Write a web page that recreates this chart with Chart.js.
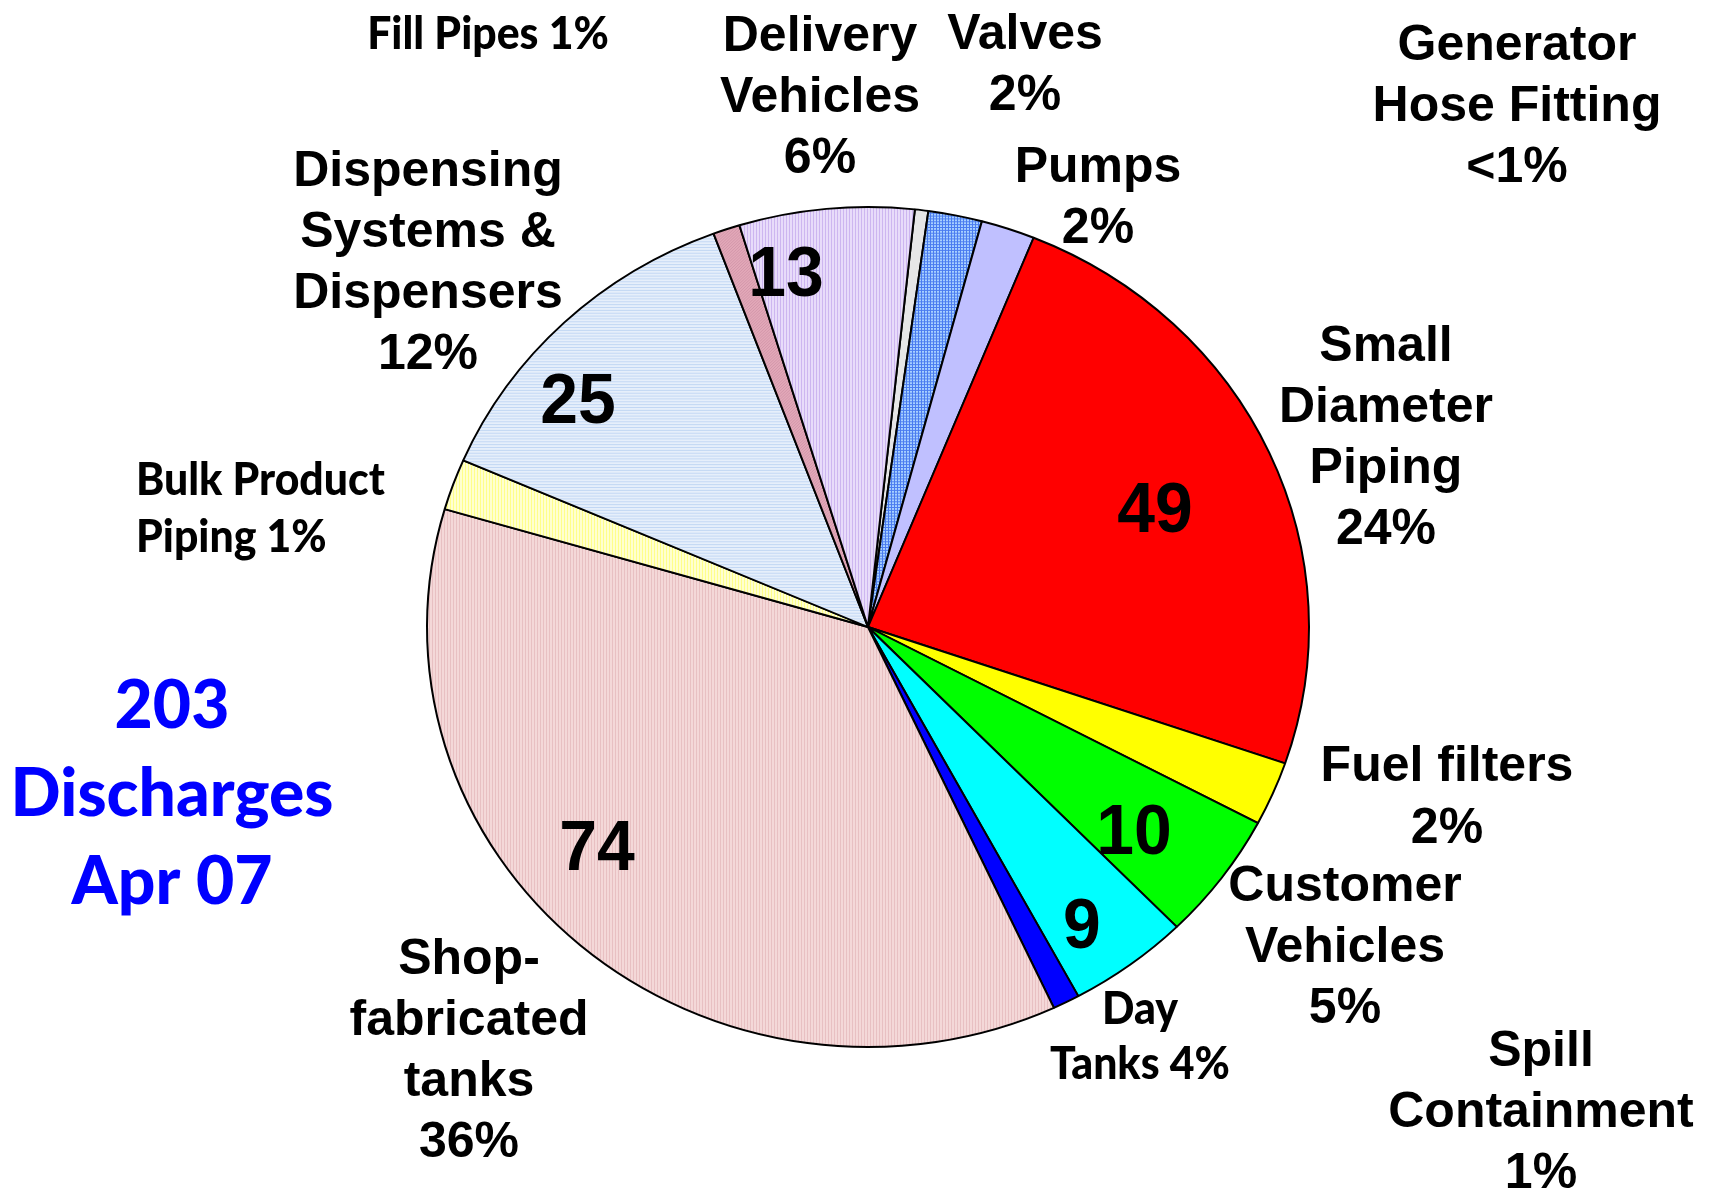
<!DOCTYPE html>
<html>
<head>
<meta charset="utf-8">
<script src="https://cdn.jsdelivr.net/npm/chart.js@4.4.1/dist/chart.umd.min.js"></script>
<style>
  html, body { margin: 0; padding: 0; background: #fff; }
</style>
</head>
<body>
<canvas id="myChart" width="1709" height="1197"></canvas>
<script>
// slices, clockwise starting near 12 o'clock
const categories = ['Generator Hose Fitting', 'Valves', 'Pumps', 'Small Diameter Piping', 'Fuel filters',
    'Customer Vehicles', 'Day Tanks', 'Spill Containment', 'Shop-fabricated tanks', 'Bulk Product Piping',
    'Dispensing Systems & Dispensers', 'Fill Pipes', 'Delivery Vehicles'];
const discharges = [1, 4, 4, 49, 5, 10, 9, 2, 74, 4, 26, 2, 13];
// numbers printed inside the big slices
const innerNumbers = ['', '', '', '49', '', '10', '9', '', '74', '', '25', '', '13'];
const totalText = ['203', 'Discharges', 'Apr 07'];

// little pattern tiles to imitate the excel hatch fills
function hatch(bg, fg, kind) {
    const c = document.createElement('canvas');
    c.width = 3; c.height = 3;
    const g = c.getContext('2d');
    g.fillStyle = bg;
    g.fillRect(0, 0, 3, 3);
    g.fillStyle = fg;
    if (kind == 'v' || kind == 'grid') g.fillRect(0, 0, 1, 3);
    if (kind == 'h' || kind == 'grid') g.fillRect(0, 0, 3, 1);
    if (kind == 'dots') { g.fillRect(0, 0, 1, 1); g.fillRect(2, 1, 1, 1); g.fillRect(1, 2, 1, 1); }
    return g.createPattern(c, 'repeat');
}

const fills = [
    '#E6E6E6',
    hatch('#A8D0FF', '#4A7CF0', 'grid'),
    '#C0C0FF',
    '#FF0000',
    '#FFFF00',
    '#00FF00',
    '#00FFFF',
    '#0000FF',
    hatch('#F4D8D8', '#E8C0C2', 'v'),
    hatch('#FFFFD0', '#FFFF8A', 'v'),
    hatch('#E6EFFB', '#C2D7F4', 'h'),
    hatch('#E2A8B8', '#D296AA', 'dots'),
    hatch('#E8DCFA', '#CDB6F0', 'v')
];

const ARIAL = 'bold 50px "Liberation Sans", Arial, sans-serif';
const CALI = '900 45px Lato, "Open Sans", sans-serif';
const BIG = 'bold 70px "Liberation Sans", Arial, sans-serif';

// outside labels: lines, x, first line y, line height, font, x squeeze
const outLabels = [
    [['Fill Pipes 1%'], 488, 34, 61, CALI, 0.95, 'center'],
    [['Delivery', 'Vehicles', '6%'], 820, 37, 61, ARIAL, 1, 'center'],
    [['Valves', '2%'], 1025, 35, 61, ARIAL, 1, 'center'],
    [['Generator', 'Hose Fitting', '<1%'], 1517, 46, 61, ARIAL, 1, 'center'],
    [['Pumps', '2%'], 1098, 168, 61, ARIAL, 1, 'center'],
    [['Dispensing', 'Systems &', 'Dispensers', '12%'], 428, 172, 61, ARIAL, 1, 'center'],
    [['Small', 'Diameter', 'Piping', '24%'], 1386, 347, 61, ARIAL, 1, 'center'],
    [['Bulk Product', 'Piping 1%'], 136, 480, 57, CALI, 0.95, 'left'],
    [['Fuel filters', '2%'], 1447, 767, 62, ARIAL, 1, 'center'],
    [['Customer', 'Vehicles', '5%'], 1345, 887, 61, ARIAL, 1, 'center'],
    [['Day', 'Tanks 4%'], 1140, 1009, 55, CALI, 0.95, 'center'],
    [['Shop-', 'fabricated', 'tanks', '36%'], 469, 960, 61, ARIAL, 1, 'center'],
    [['Spill', 'Containment', '1%'], 1541, 1052, 61, ARIAL, 1, 'center']
];
const innerPos = [null, null, null, [1155, 513], null, [1134, 835], [1082, 929], null, [597, 851], null, [578, 404], null, [786, 277]];

function drawLines(ctx, lines, x, y, lh, font, sx, align, color) {
    ctx.font = font;
    ctx.fillStyle = color;
    ctx.textAlign = align;
    ctx.textBaseline = 'middle';
    lines.forEach((t, i) => {
        ctx.save();
        ctx.translate(x, y + i * lh);
        ctx.scale(sx, 1);
        ctx.fillText(t, 0, 0);
        ctx.restore();
    });
}

// squash the pie a bit vertically, like the picture
const ellipse = {
    id: 'ellipse',
    beforeDatasetsDraw(chart) {
        const a = chart.chartArea, ctx = chart.ctx;
        const cx = (a.left + a.right) / 2, cy = (a.top + a.bottom) / 2;
        ctx.save();
        ctx.translate(cx, cy);
        ctx.scale(1, 420 / 441);
        ctx.translate(-cx, -cy);
    },
    afterDatasetsDraw(chart) {
        chart.ctx.restore();
    }
};

const texts = {
    id: 'texts',
    afterDraw(chart) {
        const ctx = chart.ctx;
        outLabels.forEach(l => drawLines(ctx, l[0], l[1], l[2], l[3], l[4], l[5], l[6], '#000'));
        innerNumbers.forEach((n, i) => {
            if (n && innerPos[i]) drawLines(ctx, [n], innerPos[i][0], innerPos[i][1], 0, BIG, 0.97, 'center', '#000');
        });
        drawLines(ctx, totalText, 172, 707, 88, '900 66px Lato, "Open Sans", sans-serif', 1, 'center', '#0000FF');
    }
};

const myChart = new Chart(document.getElementById('myChart'), {
    type: 'pie',
    data: {
        labels: categories,
        datasets: [{
            data: discharges,
            backgroundColor: fills,
            borderColor: '#000',
            borderWidth: 2,
            hoverOffset: 0
        }]
    },
    options: {
        responsive: false,
        animation: false,
        devicePixelRatio: 1,
        rotation: 6.1,
        radius: 441,
        events: [],
        layout: { padding: { left: 27, top: 57, right: 0, bottom: 0 } },
        plugins: {
            legend: { display: false },
            tooltip: { enabled: false }
        }
    },
    plugins: [ellipse, texts]
});
</script>
</body>
</html>
